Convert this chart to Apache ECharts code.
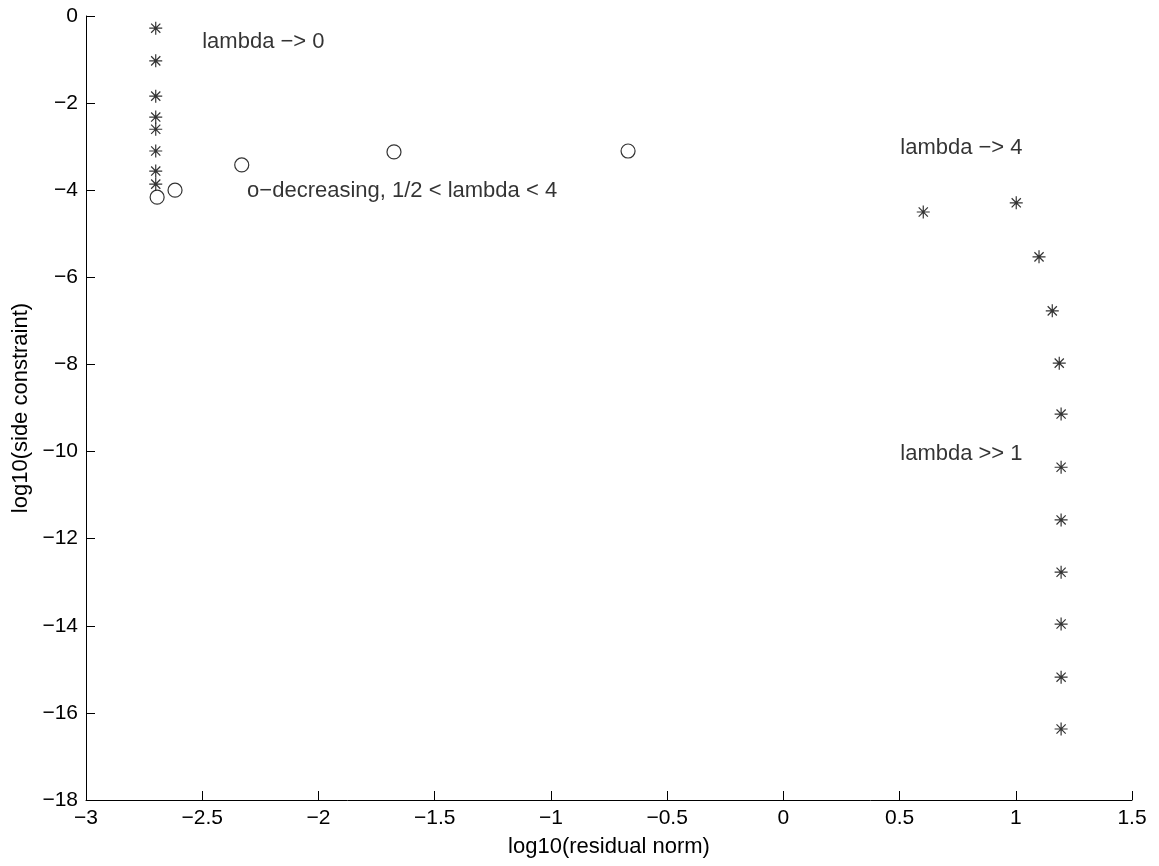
<!DOCTYPE html>
<html><head><meta charset="utf-8">
<script src="https://cdn.jsdelivr.net/npm/echarts@6/dist/echarts.min.js"></script>
<style>html,body{margin:0;padding:0;background:#fff}#c{width:1159px;height:866px}</style>
</head><body><div id="c"></div>
<script>
// small-lambda branch (asterisks)
const starsLeft = [[-2.70,-0.28],[-2.70,-1.03],[-2.70,-1.84],[-2.70,-2.32],[-2.70,-2.60],[-2.70,-3.10],[-2.70,-3.56],[-2.70,-3.86]];
// o-decreasing branch (circles)
const circles = [[-2.694,-4.16],[-2.617,-4.00],[-2.33,-3.42],[-1.675,-3.12],[-0.668,-3.10]];
// large-lambda branch (asterisks)
const starsRight = [[0.602,-4.50],[1.002,-4.29],[1.10,-5.53],[1.157,-6.77],[1.187,-7.97],[1.195,-9.14],[1.195,-10.36],[1.195,-11.57],[1.195,-12.77],[1.195,-13.96],[1.195,-15.18],[1.195,-16.37]];
// annotations
const annoX = [-2.5, -2.307, 0.503, 0.503];
const annoY = [-0.6, -4.02, -3.03, -10.06];
const annoText = ['lambda \u2212> 0', 'o\u2212decreasing, 1/2 < lambda < 4', 'lambda \u2212> 4', 'lambda >> 1'];

const star = 'path://M0,-1L0,1M-1,0L1,0M-0.7071,-0.7071L0.7071,0.7071M-0.7071,0.7071L0.7071,-0.7071';
const font = 'Liberation Sans, Arial, Helvetica, sans-serif';
const fs = 21;
const fmt = v => String(v).replace('-', '\u2212');
const chart = echarts.init(document.getElementById('c'));
chart.setOption({
  animation: false,
  backgroundColor: '#fff',
  grid: {left: 86, right: 27, top: 16, bottom: 66, containLabel: false},
  xAxis: {
    type: 'value', min: -3, max: 1.5, interval: 0.5,
    name: 'log10(residual norm)', nameLocation: 'middle', nameGap: 36,
    nameTextStyle: {fontFamily: font, fontSize: fs + 1, color: '#000'},
    axisLine: {show: true, onZero: false, lineStyle: {color: '#000', width: 1}},
    axisTick: {show: true, inside: true, length: 9, lineStyle: {color: '#000'}},
    axisLabel: {formatter: fmt, fontFamily: font, fontSize: fs, color: '#000', margin: 8},
    splitLine: {show: false}
  },
  yAxis: {
    type: 'value', min: -18, max: 0, interval: 2,
    name: 'log10(side constraint)', nameLocation: 'middle', nameGap: 54,
    nameTextStyle: {fontFamily: font, fontSize: fs + 1, color: '#000'},
    axisLine: {show: true, onZero: false, lineStyle: {color: '#000', width: 1}},
    axisTick: {show: true, inside: true, length: 9, lineStyle: {color: '#000'}},
    axisLabel: {formatter: fmt, fontFamily: font, fontSize: fs, color: '#000', margin: 8},
    splitLine: {show: false}
  },
  series: [
    {type: 'scatter', data: starsLeft, symbol: star, symbolSize: 13,
     itemStyle: {color: 'transparent', borderColor: '#000', borderWidth: 1.2}},
    {type: 'scatter', data: circles, symbol: 'circle', symbolSize: 14,
     itemStyle: {color: 'transparent', borderColor: '#000', borderWidth: 1.2}},
    {type: 'scatter', data: starsRight, symbol: star, symbolSize: 13,
     itemStyle: {color: 'transparent', borderColor: '#000', borderWidth: 1.2}},
    {type: 'scatter', symbolSize: 0, silent: true,
     data: annoX.map((x, i) => ({value: [x, annoY[i]], label: {formatter: annoText[i]}})),
     label: {show: true, position: 'right', distance: 0, fontFamily: font, fontSize: fs + 1, color: '#000'}}
  ]
});
</script></body></html>
